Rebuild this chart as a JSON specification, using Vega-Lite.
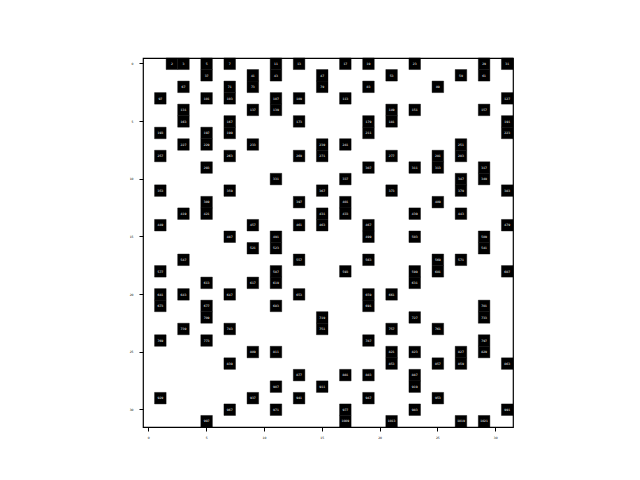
{
  "$schema": "https://vega.github.io/schema/vega-lite/v6.json",
  "width": 370,
  "height": 369,
  "autosize": {"type": "none"},
  "padding": {"left": 143, "top": 58, "right": 127, "bottom": 53},
  "background": "white",
  "config": {
    "view": {"stroke": "black", "strokeWidth": 1.2},
    "axis": {
      "domain": false,
      "grid": false,
      "ticks": true,
      "tickColor": "black",
      "tickSize": 4,
      "tickWidth": 1,
      "labelFontSize": 3,
      "labelColor": "black",
      "labelFont": "DejaVu Sans",
      "labelPadding": 5,
      "labelAngle": 0,
      "title": null
    }
  },
  "data": {
    "values": [
      {"n": 2, "row": 0, "col": 2}, {"n": 3, "row": 0, "col": 3}, {"n": 5, "row": 0, "col": 5}, {"n": 7, "row": 0, "col": 7}, {"n": 11, "row": 0, "col": 11}, {"n": 13, "row": 0, "col": 13}, {"n": 17, "row": 0, "col": 17}, {"n": 19, "row": 0, "col": 19}, {"n": 23, "row": 0, "col": 23}, {"n": 29, "row": 0, "col": 29}, {"n": 31, "row": 0, "col": 31},
      {"n": 37, "row": 1, "col": 5}, {"n": 41, "row": 1, "col": 9}, {"n": 43, "row": 1, "col": 11}, {"n": 47, "row": 1, "col": 15}, {"n": 53, "row": 1, "col": 21}, {"n": 59, "row": 1, "col": 27}, {"n": 61, "row": 1, "col": 29},
      {"n": 67, "row": 2, "col": 3}, {"n": 71, "row": 2, "col": 7}, {"n": 73, "row": 2, "col": 9}, {"n": 79, "row": 2, "col": 15}, {"n": 83, "row": 2, "col": 19}, {"n": 89, "row": 2, "col": 25},
      {"n": 97, "row": 3, "col": 1}, {"n": 101, "row": 3, "col": 5}, {"n": 103, "row": 3, "col": 7}, {"n": 107, "row": 3, "col": 11}, {"n": 109, "row": 3, "col": 13}, {"n": 113, "row": 3, "col": 17}, {"n": 127, "row": 3, "col": 31},
      {"n": 131, "row": 4, "col": 3}, {"n": 137, "row": 4, "col": 9}, {"n": 139, "row": 4, "col": 11}, {"n": 149, "row": 4, "col": 21}, {"n": 151, "row": 4, "col": 23}, {"n": 157, "row": 4, "col": 29},
      {"n": 163, "row": 5, "col": 3}, {"n": 167, "row": 5, "col": 7}, {"n": 173, "row": 5, "col": 13}, {"n": 179, "row": 5, "col": 19}, {"n": 181, "row": 5, "col": 21}, {"n": 191, "row": 5, "col": 31},
      {"n": 193, "row": 6, "col": 1}, {"n": 197, "row": 6, "col": 5}, {"n": 199, "row": 6, "col": 7}, {"n": 211, "row": 6, "col": 19}, {"n": 223, "row": 6, "col": 31},
      {"n": 227, "row": 7, "col": 3}, {"n": 229, "row": 7, "col": 5}, {"n": 233, "row": 7, "col": 9}, {"n": 239, "row": 7, "col": 15}, {"n": 241, "row": 7, "col": 17}, {"n": 251, "row": 7, "col": 27},
      {"n": 257, "row": 8, "col": 1}, {"n": 263, "row": 8, "col": 7}, {"n": 269, "row": 8, "col": 13}, {"n": 271, "row": 8, "col": 15}, {"n": 277, "row": 8, "col": 21}, {"n": 281, "row": 8, "col": 25}, {"n": 283, "row": 8, "col": 27},
      {"n": 293, "row": 9, "col": 5}, {"n": 307, "row": 9, "col": 19}, {"n": 311, "row": 9, "col": 23}, {"n": 313, "row": 9, "col": 25}, {"n": 317, "row": 9, "col": 29},
      {"n": 331, "row": 10, "col": 11}, {"n": 337, "row": 10, "col": 17}, {"n": 347, "row": 10, "col": 27}, {"n": 349, "row": 10, "col": 29},
      {"n": 353, "row": 11, "col": 1}, {"n": 359, "row": 11, "col": 7}, {"n": 367, "row": 11, "col": 15}, {"n": 373, "row": 11, "col": 21}, {"n": 379, "row": 11, "col": 27}, {"n": 383, "row": 11, "col": 31},
      {"n": 389, "row": 12, "col": 5}, {"n": 397, "row": 12, "col": 13}, {"n": 401, "row": 12, "col": 17}, {"n": 409, "row": 12, "col": 25},
      {"n": 419, "row": 13, "col": 3}, {"n": 421, "row": 13, "col": 5}, {"n": 431, "row": 13, "col": 15}, {"n": 433, "row": 13, "col": 17}, {"n": 439, "row": 13, "col": 23}, {"n": 443, "row": 13, "col": 27},
      {"n": 449, "row": 14, "col": 1}, {"n": 457, "row": 14, "col": 9}, {"n": 461, "row": 14, "col": 13}, {"n": 463, "row": 14, "col": 15}, {"n": 467, "row": 14, "col": 19}, {"n": 479, "row": 14, "col": 31},
      {"n": 487, "row": 15, "col": 7}, {"n": 491, "row": 15, "col": 11}, {"n": 499, "row": 15, "col": 19}, {"n": 503, "row": 15, "col": 23}, {"n": 509, "row": 15, "col": 29},
      {"n": 521, "row": 16, "col": 9}, {"n": 523, "row": 16, "col": 11}, {"n": 541, "row": 16, "col": 29},
      {"n": 547, "row": 17, "col": 3}, {"n": 557, "row": 17, "col": 13}, {"n": 563, "row": 17, "col": 19}, {"n": 569, "row": 17, "col": 25}, {"n": 571, "row": 17, "col": 27},
      {"n": 577, "row": 18, "col": 1}, {"n": 587, "row": 18, "col": 11}, {"n": 593, "row": 18, "col": 17}, {"n": 599, "row": 18, "col": 23}, {"n": 601, "row": 18, "col": 25}, {"n": 607, "row": 18, "col": 31},
      {"n": 613, "row": 19, "col": 5}, {"n": 617, "row": 19, "col": 9}, {"n": 619, "row": 19, "col": 11}, {"n": 631, "row": 19, "col": 23},
      {"n": 641, "row": 20, "col": 1}, {"n": 643, "row": 20, "col": 3}, {"n": 647, "row": 20, "col": 7}, {"n": 653, "row": 20, "col": 13}, {"n": 659, "row": 20, "col": 19}, {"n": 661, "row": 20, "col": 21},
      {"n": 673, "row": 21, "col": 1}, {"n": 677, "row": 21, "col": 5}, {"n": 683, "row": 21, "col": 11}, {"n": 691, "row": 21, "col": 19}, {"n": 701, "row": 21, "col": 29},
      {"n": 709, "row": 22, "col": 5}, {"n": 719, "row": 22, "col": 15}, {"n": 727, "row": 22, "col": 23}, {"n": 733, "row": 22, "col": 29},
      {"n": 739, "row": 23, "col": 3}, {"n": 743, "row": 23, "col": 7}, {"n": 751, "row": 23, "col": 15}, {"n": 757, "row": 23, "col": 21}, {"n": 761, "row": 23, "col": 25},
      {"n": 769, "row": 24, "col": 1}, {"n": 773, "row": 24, "col": 5}, {"n": 787, "row": 24, "col": 19}, {"n": 797, "row": 24, "col": 29},
      {"n": 809, "row": 25, "col": 9}, {"n": 811, "row": 25, "col": 11}, {"n": 821, "row": 25, "col": 21}, {"n": 823, "row": 25, "col": 23}, {"n": 827, "row": 25, "col": 27}, {"n": 829, "row": 25, "col": 29},
      {"n": 839, "row": 26, "col": 7}, {"n": 853, "row": 26, "col": 21}, {"n": 857, "row": 26, "col": 25}, {"n": 859, "row": 26, "col": 27}, {"n": 863, "row": 26, "col": 31},
      {"n": 877, "row": 27, "col": 13}, {"n": 881, "row": 27, "col": 17}, {"n": 883, "row": 27, "col": 19}, {"n": 887, "row": 27, "col": 23},
      {"n": 907, "row": 28, "col": 11}, {"n": 911, "row": 28, "col": 15}, {"n": 919, "row": 28, "col": 23},
      {"n": 929, "row": 29, "col": 1}, {"n": 937, "row": 29, "col": 9}, {"n": 941, "row": 29, "col": 13}, {"n": 947, "row": 29, "col": 19}, {"n": 953, "row": 29, "col": 25},
      {"n": 967, "row": 30, "col": 7}, {"n": 971, "row": 30, "col": 11}, {"n": 977, "row": 30, "col": 17}, {"n": 983, "row": 30, "col": 23}, {"n": 991, "row": 30, "col": 31},
      {"n": 997, "row": 31, "col": 5}, {"n": 1009, "row": 31, "col": 17}, {"n": 1013, "row": 31, "col": 21}, {"n": 1019, "row": 31, "col": 27}, {"n": 1021, "row": 31, "col": 29}
    ]
  },
  "encoding": {
    "x": {
      "field": "col",
      "type": "ordinal",
      "scale": {"domain": [0,1,2,3,4,5,6,7,8,9,10,11,12,13,14,15,16,17,18,19,20,21,22,23,24,25,26,27,28,29,30,31], "paddingInner": 0, "paddingOuter": 0},
      "axis": {"orient": "bottom", "values": [0,5,10,15,20,25,30]}
    },
    "y": {
      "field": "row",
      "type": "ordinal",
      "scale": {"domain": [0,1,2,3,4,5,6,7,8,9,10,11,12,13,14,15,16,17,18,19,20,21,22,23,24,25,26,27,28,29,30,31], "paddingInner": 0, "paddingOuter": 0},
      "axis": {"orient": "left", "values": [0,5,10,15,20,25,30], "labelPadding": 6}
    }
  },
  "layer": [
    {"mark": {"type": "rect", "color": "black", "stroke": "black", "strokeWidth": 0.4}},
    {
      "mark": {"type": "text", "color": "white", "fontSize": 3, "font": "DejaVu Sans", "align": "center", "baseline": "middle"},
      "encoding": {"text": {"field": "n", "type": "quantitative"}}
    }
  ]
}
